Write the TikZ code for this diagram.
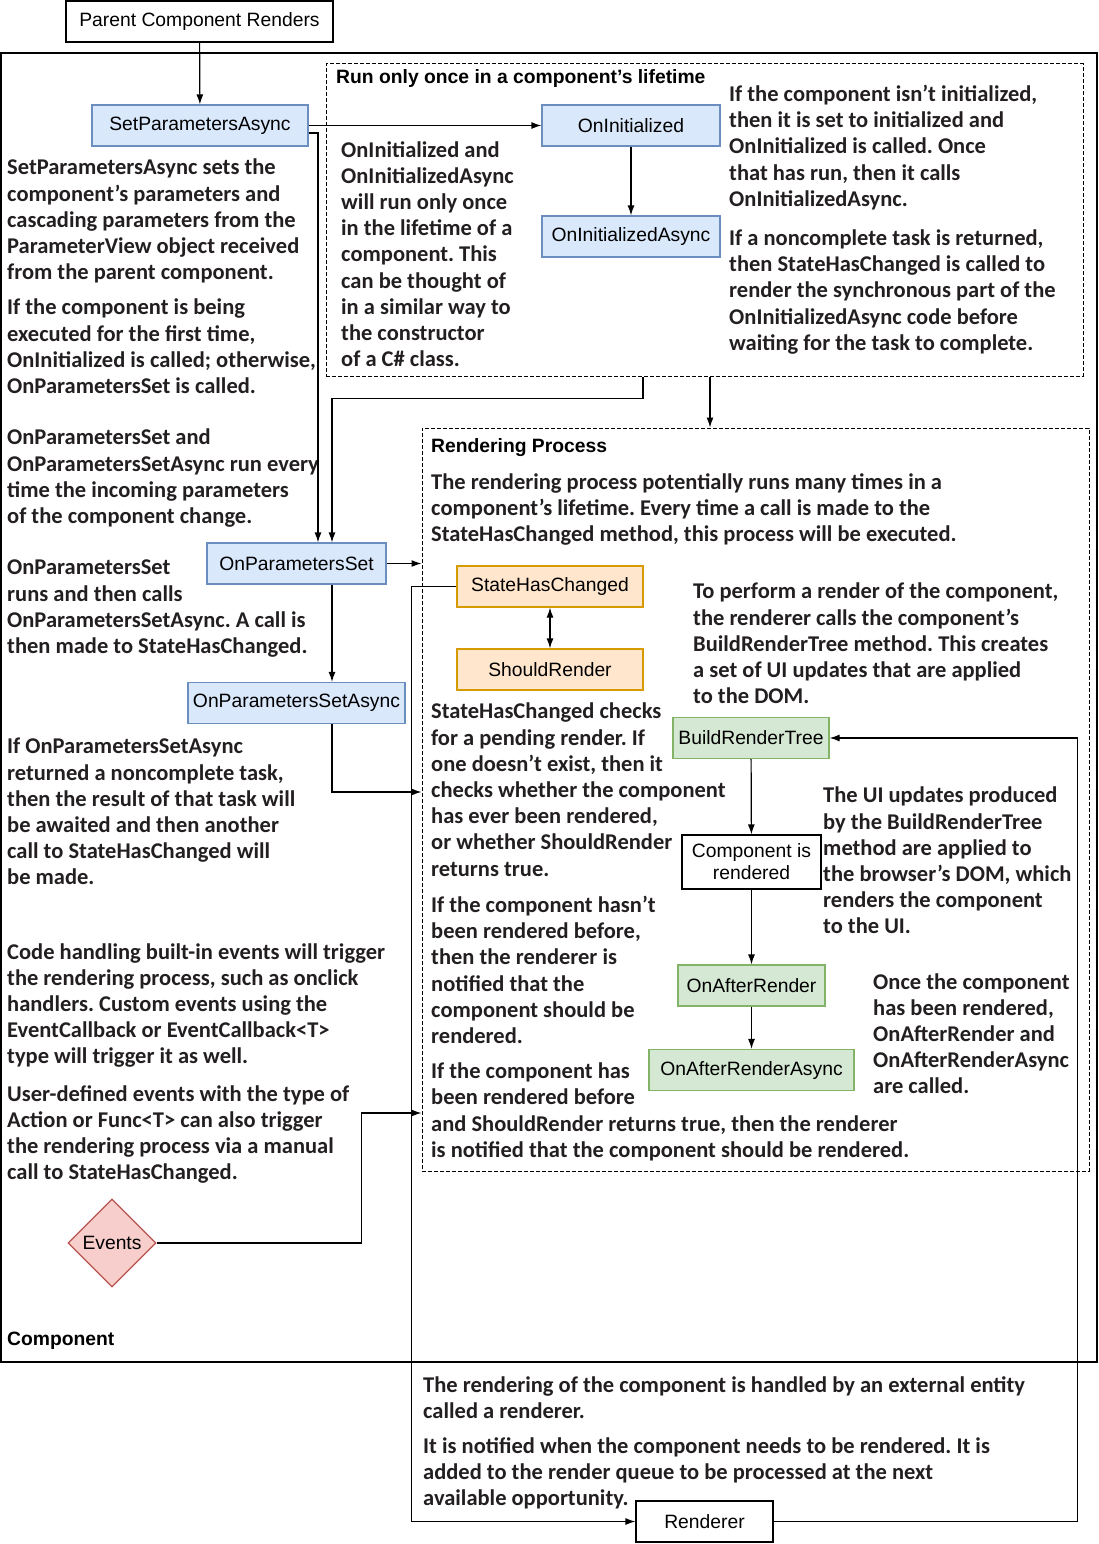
\documentclass[tikz,border=0pt]{standalone}
\usepackage{fontspec}
\setmainfont{Liberation Sans}
\newfontfamily\gillfont{Carlito}
\usetikzlibrary{arrows.meta,shapes.geometric}
\frenchspacing

\definecolor{ink}{HTML}{231F20}
\definecolor{bluefill}{HTML}{DAE8FC}
\definecolor{blueline}{HTML}{6C8EBF}
\definecolor{orangefill}{HTML}{FFE6CC}
\definecolor{orangeline}{HTML}{D79B00}
\definecolor{greenfill}{HTML}{D5E8D4}
\definecolor{greenline}{HTML}{82B366}
\definecolor{redfill}{HTML}{F8CECC}
\definecolor{redline}{HTML}{B85450}

\newcommand\notesize{\gillfont\bfseries\fontsize{22.5}{26.2}\selectfont}
\newcommand\boxsize{\fontsize{19.3}{22}\selectfont}
\newcommand\headsize{\bfseries\fontsize{19.3}{22}\selectfont}

\tikzset{
  box/.style={draw=black, line width=1.2pt, inner sep=0pt, minimum height=41pt, font=\boxsize},
  parambox/.style={box, draw=blueline, fill=bluefill},
  statebox/.style={box, draw=orangeline, fill=orangefill},
  renderbox/.style={box, draw=greenline, fill=greenfill},
  note/.style={anchor=north west, align=left, inner sep=0pt, font=\notesize, text=ink},
  heading/.style={anchor=west, inner sep=0pt, font=\headsize},
  area/.style={draw, line width=1pt, dash pattern=on 4pt off 2pt, inner sep=0pt},
  flow/.style={-{Latex[length=10pt,width=7pt]}, line width=1.2pt}
}

\begin{document}
\begin{tikzpicture}[x=1pt,y=-1pt]
  \useasboundingbox (0,0) rectangle (1098,1544);

  % frames
  \node[draw, line width=1.2pt, inner sep=0pt, minimum width=1096pt, minimum height=1309pt] (comp) at (549,707.5) {};
  \node[area, minimum width=757pt, minimum height=312pt] (once) at (704.5,220) {};
  \node[area, minimum width=667pt, minimum height=743pt] (render) at (755.5,799.5) {};

  \node[heading] (comptitle) at (7,1341) {Component};
  \node[heading] (oncetitle) at (336,79) {Run only once in a component’s lifetime};
  \node[heading] (rendertitle) at (431,448) {Rendering Process};

  % boxes
  \node[box, minimum width=267pt] (parent) at (199.5,21.5) {Parent Component Renders};
  \node[parambox, minimum width=216pt] (setpar) at (200,125.5) {SetParametersAsync};
  \node[parambox, minimum width=178pt] (oninit) at (631,125.5) {OnInitialized};
  \node[parambox, minimum width=178pt] (oninitasync) at (631,236.5) {OnInitializedAsync};
  \node[parambox, minimum width=179pt] (onparset) at (296.5,563.5) {OnParametersSet};
  \node[parambox, minimum width=217pt] (onparsetasync) at (296.5,703) {OnParametersSetAsync};
  \node[statebox, minimum width=186pt] (statechanged) at (550,586.5) {StateHasChanged};
  \node[statebox, minimum width=186pt] (shouldrender) at (550,669.5) {ShouldRender};
  \node[renderbox, minimum width=156pt] (buildtree) at (751,738) {BuildRenderTree};
  \node[box, minimum width=139pt, minimum height=54pt, align=center] (rendered) at (751.5,862) {Component is\\rendered};
  \node[renderbox, minimum width=147pt] (afterrender) at (751.5,985.5) {OnAfterRender};
  \node[renderbox, minimum width=205pt] (afterrenderasync) at (751.5,1070) {OnAfterRenderAsync};
  \node[box, minimum width=137pt] (renderer) at (704.5,1521.5) {Renderer};
  \node[diamond, draw=redline, fill=redfill, line width=1.2pt, inner sep=0pt, minimum width=88pt, minimum height=88pt, font=\boxsize] (events) at (112,1243) {Events};

  % notes
  \node[note] (setparnote) at (7,159) {SetParametersAsync sets the\\component’s parameters and\\cascading parameters from the\\ParameterView object received\\from the parent component.\\[9pt]If the component is being\\executed for the first time,\\OnInitialized is called; otherwise,\\OnParametersSet is called.};
  \node[note] (onparsetnote) at (7,429) {OnParametersSet and\\OnParametersSetAsync run every\\time the incoming parameters\\of the component change.};
  \node[note] (runsnote) at (7,560) {OnParametersSet\\runs and then calls\\OnParametersSetAsync. A call is\\then made to StateHasChanged.};
  \node[note] (asyncnote) at (7,738) {If OnParametersSetAsync\\returned a noncomplete task,\\then the result of that task will\\be awaited and then another\\call to StateHasChanged will\\be made.};
  \node[note] (eventsnote) at (7,943) {Code handling built-in events will trigger\\the rendering process, such as onclick\\handlers. Custom events using the\\EventCallback or EventCallback<T>\\type will trigger it as well.\\[11pt]User-defined events with the type of\\Action or Func<T> can also trigger\\the rendering process via a manual\\call to StateHasChanged.};
  \node[note] (oncenote) at (341,141) {OnInitialized and\\OnInitializedAsync\\will run only once\\in the lifetime of a\\component. This\\can be thought of\\in a similar way to\\the constructor\\of a C\# class.};
  \node[note] (initnote) at (729,85) {If the component isn’t initialized,\\then it is set to initialized and\\OnInitialized is called. Once\\that has run, then it calls\\OnInitializedAsync.\\[13pt]If a noncomplete task is returned,\\then StateHasChanged is called to\\render the synchronous part of the\\OnInitializedAsync code before\\waiting for the task to complete.};
  \node[note] (processnote) at (431,473) {The rendering process potentially runs many times in a\\component’s lifetime. Every time a call is made to the\\StateHasChanged method, this process will be executed.};
  \node[note] (performnote) at (693,583) {To perform a render of the component,\\the renderer calls the component’s\\BuildRenderTree method. This creates\\a set of UI updates that are applied\\to the DOM.};
  \node[note] (checksnote) at (431,703) {StateHasChanged checks\\for a pending render. If\\one doesn’t exist, then it\\checks whether the component\\has ever been rendered,\\or whether ShouldRender\\returns true.};
  \node[note] (notifynote) at (431,896) {If the component hasn’t\\been rendered before,\\then the renderer is\\notified that the\\component should be\\rendered.\\[9pt]If the component has\\been rendered before\\and ShouldRender returns true, then the renderer\\is notified that the component should be rendered.};
  \node[note] (uinote) at (823,787) {The UI updates produced\\by the BuildRenderTree\\method are applied to\\the browser’s DOM, which\\renders the component\\to the UI.};
  \node[note] (afternote) at (873,973) {Once the component\\has been rendered,\\OnAfterRender and\\OnAfterRenderAsync\\are called.};
  \node[note] (renderernote) at (423,1376) {The rendering of the component is handled by an external entity\\called a renderer.\\[9pt]It is notified when the component needs to be rendered. It is\\added to the render queue to be processed at the next\\available opportunity.};

  % connectors
  \draw[flow] (parent) -- (setpar);
  \draw[flow] (setpar) -- (oninit);
  \draw[flow] ([yshift=-7.5pt]setpar.east) -| ([xshift=21.5pt]onparset.north);
  \draw[flow] ([xshift=-61.5pt]once.south) -- ++(0,22) -| ([xshift=35.5pt]onparset.north);
  \draw[flow] ([xshift=5.5pt]once.south) -- ([xshift=5.5pt]once.south |- render.north);
  \draw[flow] (oninit) -- (oninitasync);
  \draw[flow] (onparset.east) -- (render.west |- onparset.east);
  \draw[flow] ([xshift=35.5pt]onparset.south) -- ([xshift=35.5pt]onparsetasync.north);
  \draw[flow] ([xshift=35.5pt]onparsetasync.south) |- ([yshift=7.5pt]render.west);
  \draw[flow] (statechanged.west) -- ++(-45,0) |- (renderer.west);
  \draw[flow] (renderer.east) -- ++(304,0) |- (buildtree.east);
  \draw[{Latex[length=10pt,width=7pt]}-{Latex[length=10pt,width=7pt]}, line width=1.2pt] (statechanged) -- (shouldrender);
  \draw[flow] (buildtree) -- (rendered);
  \draw[flow] (rendered) -- (afterrender);
  \draw[flow] (afterrender) -- (afterrenderasync);
  \draw[flow] (events.east) -- ++(205,0) |- ([yshift=-313.5pt]render.west);
\end{tikzpicture}
\end{document}
